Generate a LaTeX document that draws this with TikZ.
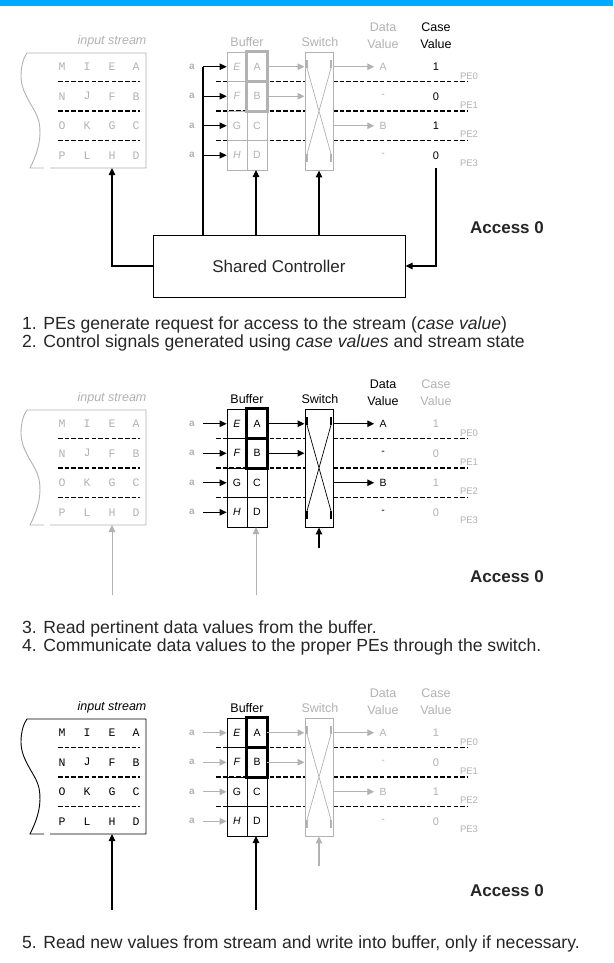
\documentclass[tikz,border=0pt]{standalone}
\usepackage{fontspec}
\setmainfont{Liberation Sans}
\newfontfamily\monof{Liberation Mono}
\usetikzlibrary{arrows.meta}
\definecolor{topblue}{RGB}{0,170,255}
\colorlet{lg}{black!30}
\colorlet{txt}{black!85}
\tikzset{
  conn/.style={line width=1.3pt,-{Triangle[length=7pt,width=6.5pt]}},
  wire/.style={line width=1.3pt},
  dashrow/.style={line width=1.6pt,dash pattern=on 4.5pt off 2.2pt},
  lbl/.style={inner sep=0pt,font=\fontsize{12.5}{17}\selectfont},
  cellbox/.style={draw,line width=0.8pt,minimum width=20pt,minimum height=29.5pt,inner sep=0pt,font=\fontsize{10.5}{12}\selectfont},
  hilite/.style={line width=2.6pt},
  mono/.style={inner sep=0pt,font=\monof\fontsize{11.5}{12}\selectfont},
  small/.style={inner sep=0pt,font=\fontsize{10.5}{12}\selectfont},
  pel/.style={inner sep=0pt,font=\fontsize{9.5}{10}\selectfont,text=lg},
  big/.style={inner sep=0pt,anchor=west,text=txt,font=\fontsize{17.6}{20}\selectfont},
  access/.style={inner sep=0pt,text=txt,font=\bfseries\fontsize{17}{20}\selectfont},
}
\newcommand\drawpanel[2]{%
\begin{scope}[shift={(0,#2)}]
  % input stream
  \node[lbl,text=cin,font=\itshape\fontsize{12.5}{14}\selectfont] (#1inl) at (112,41) {input stream};
  \draw[cin,line width=0.9pt] (44,168) -- (30,168) .. controls (38,152) and (42,138) .. (39,122)
     .. controls (36,108) and (21,95) .. (21,76) .. controls (21,65) and (24,57) .. (27,53)
     -- (146,53) -- (146,168) -- (50,168);
  \coordinate (#1inbot) at (112,168);
  \foreach \r/\a/\b/\c/\d in {1/M/I/E/A,2/N/J/F/B,3/O/K/G/C,4/P/L/H/D}{
    \node[mono,text=cin] at (62,{37.25+29.5*\r}) {\a};
    \node[mono,text=cin] at (87,{37.25+29.5*\r}) {\b};
    \node[mono,text=cin] at (112,{37.25+29.5*\r}) {\c};
    \node[mono,text=cin] at (136,{37.25+29.5*\r}) {\d};
  }
  \foreach \r in {1,2,3}{
    \draw[dashrow] (58,{52+29.5*\r}) -- (140,{52+29.5*\r});
    \draw[dashrow] (216,{52+29.5*\r}) -- (305,{52+29.5*\r});
    \draw[dashrow] (333,{52+29.5*\r}) -- (468,{52+29.5*\r});
  }
  % buffer
  \node[lbl,text=cbuf] (#1bufl) at (247,42) {Buffer};
  \node[cellbox,draw=cbuf,text=cbuf] (#1L1) at (237,66.75) {\textit{E}};
  \node[cellbox,draw=cbuf,text=cbuf] (#1L2) at (237,96.25) {\textit{F}};
  \node[cellbox,draw=cbuf,text=cbuf] (#1L3) at (237,125.75) {G};
  \node[cellbox,draw=cbuf,text=cbuf] (#1L4) at (237,155.25) {\textit{H}};
  \node[cellbox,draw=cbuf,text=cbuf] (#1R1) at (257,66.75) {A};
  \node[cellbox,draw=cbuf,text=cbuf] (#1R2) at (257,96.25) {B};
  \node[cellbox,draw=cbuf,text=cbuf] (#1R3) at (257,125.75) {C};
  \node[cellbox,draw=cbuf,text=cbuf] (#1R4) at (257,155.25) {D};
  \draw[hilite,cbuf] (#1R1.north west) rectangle (#1R1.south east);
  \draw[hilite,cbuf] (#1R2.north west) rectangle (#1R2.south east);
  \coordinate (#1bufbot) at (256,170);
  \foreach \r in {1,2,3,4}{
    \node[small,text=lg,font=\bfseries\fontsize{10}{12}\selectfont] (#1a\r) at (192,{37.25+29.5*\r}) {a};
    \coordinate (#1s\r) at (203,{37.25+29.5*\r});
    \draw[conn,cinarr] (#1s\r) -- (#1L\r.west);
  }
  % switch
  \node[lbl,text=csw] (#1swl) at (320,42) {Switch};
  \node[draw=csw,line width=0.9pt,minimum width=28pt,minimum height=118pt,inner sep=0pt] (#1sw) at (319,111) {};
  \draw[csw,line width=0.7pt] (307,68) -- (331,154) (331,68) -- (307,154);
  \draw[csw,line width=1.8pt] (307,60) -- (307,68) (331,60) -- (331,68) (307,154) -- (307,162) (331,154) -- (331,162);
  \draw[conn,cmid] (#1R1.east) -- (#1R1.east -| #1sw.west);
  \draw[conn,cmid] (#1R2.east) -- (#1R2.east -| #1sw.west);
  % values
  \node[lbl,text=cout,align=center] (#1dvl) at (383,35.5) {Data\\Value};
  \node[lbl,text=ccase,align=center] (#1cvl) at (436,35.5) {Case\\Value};
  \node[small,text=cout] (#1dv1) at (383,66.75) {A};
  \node[small,text=cout] (#1dv2) at (383,96.25) {-};
  \node[small,text=cout] (#1dv3) at (383,125.75) {B};
  \node[small,text=cout] (#1dv4) at (383,155.25) {-};
  \draw[conn,cout] (#1sw.east |- #1dv1) -- ([xshift=-5pt]#1dv1.west);
  \draw[conn,cout] (#1sw.east |- #1dv3) -- ([xshift=-5pt]#1dv3.west);
  \node[small,text=ccase,font=\fontsize{11}{12}\selectfont] (#1cv1) at (436,66.75) {1};
  \node[small,text=ccase,font=\fontsize{11}{12}\selectfont] (#1cv2) at (436,96.25) {0};
  \node[small,text=ccase,font=\fontsize{11}{12}\selectfont] (#1cv3) at (436,125.75) {1};
  \node[small,text=ccase,font=\fontsize{11}{12}\selectfont] (#1cv4) at (436,155.25) {0};
  \coordinate (#1cvb) at (436,168);
  \node[pel] (#1pe0) at (469,76) {PE0};
  \node[pel] (#1pe1) at (469,105) {PE1};
  \node[pel] (#1pe2) at (469,134) {PE2};
  \node[pel] (#1pe3) at (469,163) {PE3};
\end{scope}}
\begin{document}
\begin{tikzpicture}[x=1pt,y=-1pt]
\useasboundingbox (0,0) rectangle (613,963);
\fill[white] (0,0) rectangle (613,963);
\fill[topblue] (0,0) rectangle (613,6);
% panel 1
\colorlet{cin}{lg}\colorlet{cbuf}{lg}\colorlet{cinarr}{black}\colorlet{cmid}{lg}
\colorlet{csw}{lg}\colorlet{cout}{lg}\colorlet{ccase}{black}
\drawpanel{p1}{0}
\node[draw,line width=1pt,minimum width=252pt,minimum height=62pt,text=txt,font=\fontsize{17}{20}\selectfont] (ctrl) at (279,266) {Shared Controller};
\draw[wire] (p1s1) -- (p1s1 |- ctrl.north);
\draw[conn] (ctrl.north -| p1bufbot) -- (p1bufbot);
\draw[conn] (ctrl.north -| p1sw.south) -- (p1sw.south);
\draw[conn] (ctrl.west) -| (p1inbot);
\draw[conn] (p1cvb) |- (ctrl.east);
\node[access] (acc1) at (507,228) {Access 0};
\node[big] (t1) at (22,325) {1. PEs generate request for access to the stream (\textit{case value})};
\node[big] (t2) at (22,343) {2. Control signals generated using \textit{case values} and stream state};
% panel 2
\colorlet{cin}{lg}\colorlet{cbuf}{black}\colorlet{cinarr}{black}\colorlet{cmid}{black}
\colorlet{csw}{black}\colorlet{cout}{black}\colorlet{ccase}{lg}
\drawpanel{p2}{357}
\coordinate (p2low1) at (112,595);
\coordinate (p2low2) at (256,595);
\coordinate (p2low3) at (319,548);
\draw[conn,lg,line width=0.9pt] (p2low1) -- (p2inbot);
\draw[conn,lg,line width=0.9pt] (p2low2) -- (p2bufbot);
\draw[conn] (p2low3) -- (p2sw.south);
\node[access] (acc2) at (507,577) {Access 0};
\node[big] (t3) at (22,629) {3. Read pertinent data values from the buffer.};
\node[big] (t4) at (22,647) {4. Communicate data values to the proper PEs through the switch.};
% panel 3
\colorlet{cin}{black}\colorlet{cbuf}{black}\colorlet{cinarr}{lg}\colorlet{cmid}{lg}
\colorlet{csw}{lg}\colorlet{cout}{lg}\colorlet{ccase}{lg}
\drawpanel{p3}{666}
\coordinate (p3low1) at (112,910);
\coordinate (p3low2) at (256,910);
\coordinate (p3low3) at (319,866);
\draw[conn] (p3low1) -- (p3inbot);
\draw[conn] (p3low2) -- (p3bufbot);
\draw[conn,lg] (p3low3) -- (p3sw.south);
\node[access] (acc3) at (507,891) {Access 0};
\node[big] (t5) at (22,944) {5. Read new values from stream and write into buffer, only if necessary.};
\end{tikzpicture}
\end{document}
